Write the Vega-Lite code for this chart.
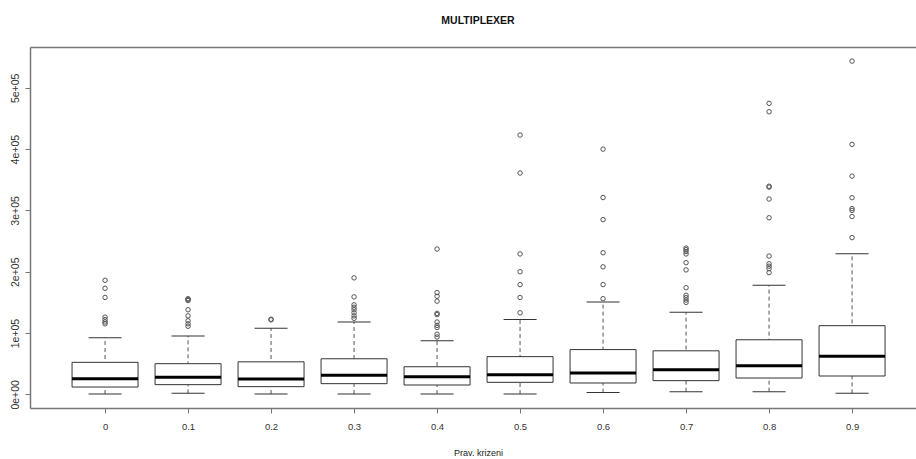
{
  "$schema": "https://vega.github.io/schema/vega-lite/v6.json",
  "width": 886,
  "height": 361,
  "autosize": {"type": "none"},
  "padding": {"left": 30, "top": 47, "right": 0, "bottom": 51},
  "background": "white",
  "config": {
    "view": {"stroke": null},
    "font": "Liberation Sans",
    "axis": {"grid": false}
  },
  "title": {
    "text": "MULTIPLEXER",
    "font": "Liberation Sans",
    "fontSize": 10.5,
    "fontWeight": "bold",
    "color": "#111",
    "anchor": "middle",
    "dx": 5,
    "baseline": "alphabetic",
    "offset": 13
  },
  "datasets": {
    "boxes": [
      {"cat": "0", "lo": 500, "q1": 11900, "med": 25600, "q3": 52200, "hi": 92500},
      {"cat": "0.1", "lo": 1600, "q1": 15800, "med": 27700, "q3": 50000, "hi": 95000},
      {"cat": "0.2", "lo": 500, "q1": 12500, "med": 25000, "q3": 53000, "hi": 108000},
      {"cat": "0.3", "lo": 500, "q1": 17400, "med": 31000, "q3": 58000, "hi": 118000},
      {"cat": "0.4", "lo": 500, "q1": 15200, "med": 28800, "q3": 45000, "hi": 87600},
      {"cat": "0.5", "lo": 500, "q1": 19600, "med": 32000, "q3": 61500, "hi": 122000},
      {"cat": "0.6", "lo": 2800, "q1": 18500, "med": 34800, "q3": 73000, "hi": 150500},
      {"cat": "0.7", "lo": 4400, "q1": 22300, "med": 40200, "q3": 71000, "hi": 133700},
      {"cat": "0.8", "lo": 4400, "q1": 26600, "med": 46800, "q3": 89000, "hi": 177800},
      {"cat": "0.9", "lo": 1600, "q1": 29900, "med": 62000, "q3": 112000, "hi": 229500}
    ],
    "outliers": [
      {"cat": "0", "v": 186000}, {"cat": "0", "v": 173000}, {"cat": "0", "v": 158000}, {"cat": "0", "v": 126000}, {"cat": "0", "v": 121800}, {"cat": "0", "v": 118000}, {"cat": "0", "v": 115000},
      {"cat": "0.1", "v": 156000}, {"cat": "0.1", "v": 154500}, {"cat": "0.1", "v": 153000}, {"cat": "0.1", "v": 138000}, {"cat": "0.1", "v": 128000}, {"cat": "0.1", "v": 120000}, {"cat": "0.1", "v": 115000}, {"cat": "0.1", "v": 111000},
      {"cat": "0.2", "v": 122500}, {"cat": "0.2", "v": 121500},
      {"cat": "0.3", "v": 190000}, {"cat": "0.3", "v": 159000}, {"cat": "0.3", "v": 146000}, {"cat": "0.3", "v": 142000}, {"cat": "0.3", "v": 138000}, {"cat": "0.3", "v": 133000}, {"cat": "0.3", "v": 128000}, {"cat": "0.3", "v": 124000},
      {"cat": "0.4", "v": 237000}, {"cat": "0.4", "v": 166000}, {"cat": "0.4", "v": 160000}, {"cat": "0.4", "v": 152000}, {"cat": "0.4", "v": 132000}, {"cat": "0.4", "v": 130000}, {"cat": "0.4", "v": 118000}, {"cat": "0.4", "v": 112500}, {"cat": "0.4", "v": 109000}, {"cat": "0.4", "v": 98000}, {"cat": "0.4", "v": 93500},
      {"cat": "0.5", "v": 423000}, {"cat": "0.5", "v": 361000}, {"cat": "0.5", "v": 229000}, {"cat": "0.5", "v": 200000}, {"cat": "0.5", "v": 179000}, {"cat": "0.5", "v": 158000}, {"cat": "0.5", "v": 133000},
      {"cat": "0.6", "v": 400000}, {"cat": "0.6", "v": 321000}, {"cat": "0.6", "v": 285000}, {"cat": "0.6", "v": 231000}, {"cat": "0.6", "v": 208000}, {"cat": "0.6", "v": 179000}, {"cat": "0.6", "v": 156000},
      {"cat": "0.7", "v": 238600}, {"cat": "0.7", "v": 236000}, {"cat": "0.7", "v": 233000}, {"cat": "0.7", "v": 229000}, {"cat": "0.7", "v": 214800}, {"cat": "0.7", "v": 203000}, {"cat": "0.7", "v": 174000}, {"cat": "0.7", "v": 161500}, {"cat": "0.7", "v": 157700}, {"cat": "0.7", "v": 153800}, {"cat": "0.7", "v": 150000},
      {"cat": "0.8", "v": 474700}, {"cat": "0.8", "v": 461000}, {"cat": "0.8", "v": 339500}, {"cat": "0.8", "v": 338000}, {"cat": "0.8", "v": 318600}, {"cat": "0.8", "v": 288000}, {"cat": "0.8", "v": 225600}, {"cat": "0.8", "v": 213000}, {"cat": "0.8", "v": 209000}, {"cat": "0.8", "v": 205000}, {"cat": "0.8", "v": 198500},
      {"cat": "0.9", "v": 543600}, {"cat": "0.9", "v": 407800}, {"cat": "0.9", "v": 356000}, {"cat": "0.9", "v": 320800}, {"cat": "0.9", "v": 303000}, {"cat": "0.9", "v": 300000}, {"cat": "0.9", "v": 290000}, {"cat": "0.9", "v": 255600}
    ]
  },
  "resolve": {"axis": {"x": "independent"}},
  "layer": [
    {
      "data": {"name": "boxes"},
      "mark": {"type": "rule", "color": "#555", "strokeWidth": 1, "strokeDash": [4, 3]},
      "encoding": {
        "x": {
          "field": "cat", "type": "ordinal",
          "scale": {"type": "point", "domain": ["0","0.1","0.2","0.3","0.4","0.5","0.6","0.7","0.8","0.9"], "padding": 0.8373, "align": 0.54},
          "axis": {
            "orient": "bottom", "title": "Prav. krizeni",
            "domainColor": "#777", "domainWidth": 1.5,
            "tickColor": "#777", "tickSize": 5, "tickWidth": 1,
            "labelAngle": 0, "labelFont": "Liberation Sans", "labelFontSize": 9.5, "labelColor": "#333",
            "labelPadding": 8, "labelBaseline": "top",
            "titleFont": "Liberation Sans", "titleFontSize": 9, "titleFontWeight": "normal", "titleColor": "#222",
            "titleX": 448, "titleY": 47.5, "titleBaseline": "alphabetic", "titleAnchor": null, "titleAlign": "center"
          }
        },
        "y": {
          "field": "lo", "type": "quantitative",
          "scale": {"domain": [-22300, 566600], "nice": false, "zero": false},
          "axis": {
            "title": null, "values": [0, 100000, 200000, 300000, 400000, 500000],
            "labelExpr": "datum.value == 0 ? '0e+00' : format(datum.value / 100000, 'd') + 'e+05'",
            "domainColor": "#777", "domainWidth": 1.5,
            "tickColor": "#777", "tickSize": 5, "tickWidth": 1,
            "labelAngle": 270, "labelAlign": "center", "labelBaseline": "alphabetic",
            "labelPadding": 7, "labelFont": "Liberation Sans", "labelFontSize": 10.5, "labelColor": "#333"
          }
        },
        "y2": {"field": "hi"}
      }
    },
    {
      "data": {"name": "boxes"},
      "mark": {"type": "bar", "size": 66, "fill": "white", "stroke": "#333", "strokeWidth": 1},
      "encoding": {
        "x": {
          "field": "cat", "type": "ordinal",
          "axis": {"orient": "top", "labels": false, "ticks": false, "title": null, "domainColor": "#777", "domainWidth": 1.5}
        },
        "y": {"field": "q1", "type": "quantitative"},
        "y2": {"field": "q3"}
      }
    },
    {
      "data": {"name": "boxes"},
      "mark": {"type": "tick", "size": 66, "thickness": 3, "color": "#000", "opacity": 1},
      "encoding": {
        "x": {"field": "cat", "type": "ordinal", "axis": null},
        "y": {"field": "med", "type": "quantitative"}
      }
    },
    {
      "data": {"name": "boxes"},
      "mark": {"type": "tick", "size": 33, "thickness": 1, "color": "#333", "opacity": 1},
      "encoding": {
        "x": {"field": "cat", "type": "ordinal", "axis": null},
        "y": {"field": "hi", "type": "quantitative"}
      }
    },
    {
      "data": {"name": "boxes"},
      "mark": {"type": "tick", "size": 33, "thickness": 1, "color": "#333", "opacity": 1},
      "encoding": {
        "x": {"field": "cat", "type": "ordinal", "axis": null},
        "y": {"field": "lo", "type": "quantitative"}
      }
    },
    {
      "data": {"name": "outliers"},
      "mark": {"type": "point", "shape": "circle", "filled": false, "size": 20, "stroke": "#555", "strokeWidth": 1, "opacity": 1},
      "encoding": {
        "x": {"field": "cat", "type": "ordinal", "axis": null},
        "y": {"field": "v", "type": "quantitative"}
      }
    }
  ]
}
